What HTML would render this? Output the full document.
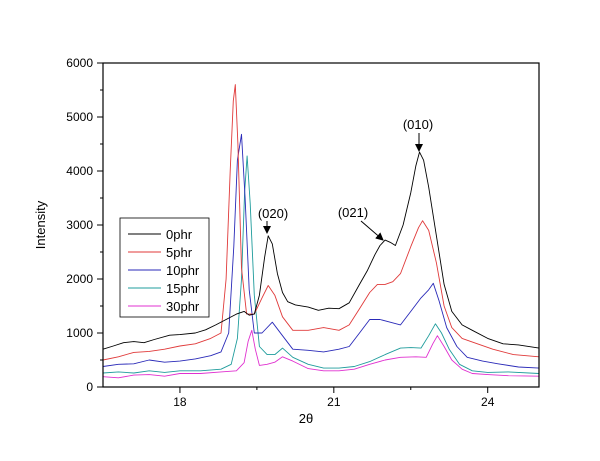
<!DOCTYPE html>
<html><head><meta charset="utf-8"><style>
body{margin:0;background:#fff;}
svg{display:block;font-family:"Liberation Sans",Arial,sans-serif;}
</style></head><body>
<svg id="chart" width="600" height="461" viewBox="0 0 600 461">
<defs><marker id="ah" markerWidth="8" markerHeight="8" refX="7" refY="4" orient="auto" markerUnits="userSpaceOnUse"><path d="M0,0 L8,4 L0,8 Z" fill="#000"/></marker></defs>
<g id="series"></g>
<rect x="103" y="63" width="436" height="324" fill="none" stroke="#000" stroke-width="1.2"/>
<g id="axes"></g>
<text x="45" y="225" font-size="13" text-anchor="middle" transform="rotate(-90 45 225)">Intensity</text>
<text x="306" y="423" font-size="13" text-anchor="middle">2θ</text>
<g>
<rect x="120" y="218" width="89" height="99" fill="#fff" stroke="#000" stroke-width="0.8"/>
<g id="legend"></g>
</g>
<g>
<text x="273" y="218" font-size="13" text-anchor="middle">(020)</text>
<line x1="267" y1="221" x2="267" y2="233" stroke="#000" marker-end="url(#ah)"/>
<text x="353" y="217" font-size="13" text-anchor="middle">(021)</text>
<line x1="361" y1="221" x2="383" y2="240" stroke="#000" marker-end="url(#ah)"/>
<text x="418" y="129" font-size="13" text-anchor="middle">(010)</text>
<line x1="419" y1="133" x2="419" y2="151" stroke="#000" marker-end="url(#ah)"/>
</g>
</svg>
<script>
const seriesNames=["0phr","5phr","10phr","15phr","30phr"];
const seriesColors=["#000000","#e03a3a","#2a2ab8","#1f9c9c","#e030d0"];
const xTicks=[18,21,24];
const yTicks=[0,1000,2000,3000,4000,5000,6000];
const x0phr=[16.5,16.7,16.9,17.1,17.3,17.5,17.8,18,18.3,18.5,18.7,18.9,19.1,19.25,19.35,19.45,19.55,19.65,19.72,19.8,19.9,20.0,20.1,20.25,20.5,20.7,20.9,21.1,21.3,21.5,21.65,21.8,21.9,22.0,22.1,22.2,22.35,22.5,22.6,22.67,22.75,22.85,23.0,23.15,23.3,23.5,23.7,24.0,24.3,24.6,25.0];
const y0phr=[700,760,820,840,820,880,960,970,1000,1060,1150,1250,1350,1400,1330,1350,1700,2400,2800,2650,2100,1750,1580,1520,1480,1420,1460,1450,1560,1900,2150,2450,2620,2720,2680,2620,3000,3600,4100,4350,4200,3700,2800,1900,1400,1150,1050,900,800,780,720];
const x5phr=[16.5,16.8,17.1,17.4,17.7,18,18.3,18.6,18.8,18.9,18.98,19.04,19.08,19.13,19.2,19.3,19.45,19.6,19.72,19.85,20.0,20.2,20.5,20.8,21.1,21.3,21.5,21.7,21.85,22.0,22.15,22.3,22.5,22.65,22.73,22.85,23.0,23.15,23.3,23.5,23.8,24.1,24.5,25.0];
const y5phr=[500,560,640,660,700,760,800,900,1000,2000,4000,5300,5600,4500,2200,1350,1350,1650,1880,1700,1300,1050,1050,1100,1050,1150,1450,1750,1900,1900,1950,2100,2600,2950,3080,2900,2300,1500,1100,900,800,700,600,560];
const x10phr=[16.5,16.8,17.1,17.4,17.7,18,18.3,18.6,18.8,18.95,19.05,19.12,19.2,19.27,19.35,19.45,19.6,19.8,20.0,20.2,20.5,20.8,21.1,21.3,21.5,21.7,21.9,22.1,22.3,22.5,22.7,22.85,22.94,23.05,23.2,23.4,23.6,23.9,24.2,24.6,25.0];
const y10phr=[380,420,430,500,460,480,520,580,650,1000,2600,4200,4680,3500,1800,1000,1000,1200,950,700,680,650,700,750,1000,1250,1250,1200,1150,1400,1650,1800,1920,1600,1100,750,550,480,430,370,350];
const x15phr=[16.5,16.8,17.1,17.4,17.7,18,18.4,18.8,19.0,19.12,19.2,19.26,19.31,19.37,19.45,19.55,19.7,19.85,20.0,20.2,20.5,20.8,21.1,21.4,21.7,22.0,22.3,22.5,22.7,22.85,22.98,23.1,23.25,23.45,23.7,24.0,24.4,25.0];
const y15phr=[260,280,260,300,270,300,300,330,420,900,2000,3600,4280,3400,1700,750,600,600,720,550,420,350,350,380,470,600,720,730,720,950,1170,1000,700,420,300,270,280,250];
const x30phr=[16.5,16.8,17.1,17.4,17.7,18,18.4,18.8,19.1,19.25,19.33,19.4,19.47,19.55,19.7,19.85,20.0,20.2,20.5,20.8,21.1,21.4,21.7,22.0,22.3,22.6,22.8,22.93,23.02,23.15,23.3,23.5,23.7,24.0,24.4,25.0];
const y30phr=[190,170,220,230,200,250,250,280,300,450,850,1050,700,400,420,460,560,480,340,300,300,330,420,500,550,560,550,800,950,750,500,330,250,230,210,200];
const xs=[x0phr,x5phr,x10phr,x15phr,x30phr];
const ys=[y0phr,y5phr,y10phr,y15phr,y30phr];
const NS="http://www.w3.org/2000/svg";
function sx(v){return 103+(v-16.5)*(436/8.5);}
function sy(v){return 387-v*(324/6000);}
const gs=document.getElementById("series");
for(let i=xs.length-1;i>=0;i--){
  const p=document.createElementNS(NS,"polyline");
  p.setAttribute("points",xs[i].map((x,j)=>sx(x).toFixed(1)+","+sy(ys[i][j]).toFixed(1)).join(" "));
  p.setAttribute("fill","none");p.setAttribute("stroke",seriesColors[i]);p.setAttribute("stroke-width","0.9");p.setAttribute("stroke-linejoin","round");
  
  
  gs.appendChild(p);
}
const ga=document.getElementById("axes");
function mk(tag,attrs){const e=document.createElementNS(NS,tag);for(const k in attrs)e.setAttribute(k,attrs[k]);return e;}
yTicks.forEach(v=>{
  const t=mk("line",{x1:97,x2:103,y1:sy(v),y2:sy(v),stroke:"#000"});
  
  
  ga.appendChild(t);
  if(v<6000){const m=mk("line",{x1:100,x2:103,y1:sy(v+500),y2:sy(v+500),stroke:"#000"});
  
  
  ga.appendChild(m);}
  const l=mk("text",{x:93,y:sy(v)+4,"font-size":12,"text-anchor":"end"});l.textContent=v;
  
  
  ga.appendChild(l);
});
xTicks.forEach(v=>{
  const t=mk("line",{x1:sx(v),x2:sx(v),y1:387,y2:393,stroke:"#000"});
  
  
  ga.appendChild(t);
  if(v+1.5<25){const m=mk("line",{x1:sx(v+1.5),x2:sx(v+1.5),y1:387,y2:390,stroke:"#000"});
  
  
  ga.appendChild(m);}
  const l=mk("text",{x:sx(v),y:406,"font-size":12,"text-anchor":"middle"});l.textContent=v;
  
  
  ga.appendChild(l);
});
const gl=document.getElementById("legend");
seriesNames.forEach((n,i)=>{
  const y=234+i*18;
  const ln=mk("line",{x1:128,x2:161,y1:y,y2:y,stroke:seriesColors[i],"stroke-width":1});
  
  
  gl.appendChild(ln);
  const t=mk("text",{x:166,y:y+5,"font-size":13});t.textContent=n;
  
  
  gl.appendChild(t);
});
</script>
</body></html>
